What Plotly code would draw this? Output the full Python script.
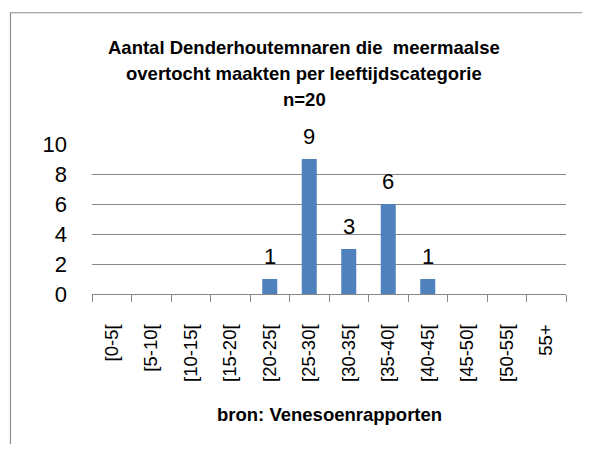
import plotly.graph_objects as go

categories = ["[0-5[", "[5-10[", "[10-15[", "[15-20[", "[20-25[", "[25-30[",
              "[30-35[", "[35-40[", "[40-45[", "[45-50[", "[50-55[", "55+"]
values = [0, 0, 0, 0, 1, 9, 3, 6, 1, 0, 0, 0]
title_lines = ["Aantal Denderhoutemnaren die \u00a0meermaalse",
               "overtocht maakten per leeftijdscategorie",
               "n=20"]
source_text = "bron: Venesoenrapporten"
y_ticks = [0, 2, 4, 6, 8, 10]

FONT = "Liberation Sans, Arial, sans-serif"
GRID = "#878787"

fig = go.Figure()
fig.add_trace(go.Bar(
    x=categories, y=values,
    marker=dict(color="#4F81BD", line=dict(width=0)),
    hoverinfo="x+y",
))

annotations = []
for c, v in zip(categories, values):
    if v:
        annotations.append(dict(
            x=c, y=v, xref="x", yref="y", text=str(v), showarrow=False,
            yanchor="bottom", yshift=8,
            font=dict(family=FONT, size=22, color="#000000"),
        ))

title_y = [1.644, 1.471, 1.297]
for line, ty in zip(title_lines, title_y):
    annotations.append(dict(
        x=0.448, y=ty, xref="paper", yref="paper", text="<b>%s</b>" % line,
        showarrow=False, xanchor="center", yanchor="middle",
        font=dict(family=FONT, size=18.5, color="#000000"),
    ))

annotations.append(dict(
    x=0.5, y=-0.8, xref="paper", yref="paper", text="<b>%s</b>" % source_text,
    showarrow=False, xanchor="center", yanchor="middle",
    font=dict(family=FONT, size=18.5, color="#000000"),
))

fig.update_layout(
    width=574, height=436,
    margin=dict(l=84, r=16, t=136, b=150, pad=0),
    paper_bgcolor="#FFFFFF", plot_bgcolor="#FFFFFF",
    bargap=0.62,
    showlegend=False,
    annotations=annotations,
    font=dict(family=FONT, color="#000000"),
    shapes=[dict(
        type="rect", xref="paper", yref="paper",
        x0=-0.172, x1=1.2, y0=-1.3, y1=1.875,
        line=dict(color="#8C8C8C", width=1.2), fillcolor="rgba(0,0,0,0)",
        layer="below",
    )],
)

fig.update_xaxes(
    type="category",
    showgrid=False,
    showline=True, linecolor=GRID, linewidth=1,
    ticks="outside", tickson="boundaries", ticklen=7, tickcolor=GRID, tickwidth=1,
    tickangle=-90,
    tickfont=dict(family=FONT, size=18.5, color="#000000"),
    ticklabelstandoff=22,
)
fig.update_yaxes(
    range=[0, 10],
    tickvals=y_ticks,
    showgrid=True, gridcolor=GRID, gridwidth=1,
    zeroline=False, showline=False, ticks="",
    tickfont=dict(family=FONT, size=22, color="#000000"),
    ticklabelstandoff=24,
)

fig.write_html("out.html")
